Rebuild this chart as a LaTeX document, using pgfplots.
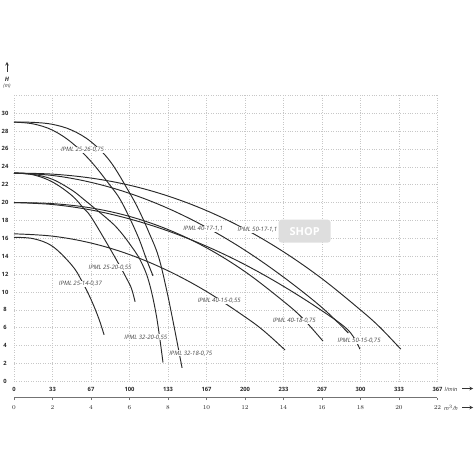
\documentclass[border=0pt]{standalone}
\usepackage{pgfplots}
\pgfplotsset{compat=1.18}
\usepackage{fontspec}
\setmainfont{Open Sans}
\definecolor{curve}{HTML}{2A2A2A}
\definecolor{lbl}{HTML}{444444}
\tikzset{lab/.style={font=\fontsize{6}{7}\selectfont\itshape, text=lbl, fill=white, inner sep=0.6pt}}
\pgfplotsset{pc/.style={draw=curve, solid, line width=0.95pt, smooth, tension=0.6, mark=none}}
\begin{document}
\begin{tikzpicture}[x=1pt,y=1pt]
\path[use as bounding box] (0,0) rectangle (475,475);
\begin{axis}[
  at={(14pt,93.7pt)}, anchor=south west, scale only axis,
  width=423.5pt, height=286pt,
  xmin=0,xmax=22,ymin=0,ymax=32,
  xtick={0,2,...,22}, xticklabels={0,33,67,100,133,167,200,233,267,300,333,367},
  ytick={0,2,...,32}, yticklabels={0,2,4,6,8,10,12,14,16,18,20,22,24,26,28,30,{}},
  grid=major, grid style={dotted, black!22, line width=0.5pt},
  axis line style={draw=none}, major tick length=0pt,
  tick label style={font=\fontsize{5.8}{6}\selectfont\bfseries, text=black!85},
  yticklabel style={anchor=center, xshift=-9pt},
  xticklabel style={anchor=center, yshift=-8pt},
  clip=false,
]
% watermark
\node[fill=black!13, rounded corners=3pt, minimum width=52pt, minimum height=23pt, text=white, font=\fontsize{11}{12}\selectfont\bfseries] at (axis cs:15.1,16.8) {SHOP};

% IPML 25-26-0,75
\addplot[pc] coordinates {(0,29)(1,28.8)(2,28.1)(3,26.7)(4,24.6)(5,21.9)(5.5,20.4)(6,18.3)(6.5,15.9)(6.89,13.6)(7.22,11.8)};
% IPML 32-18-0,75
\addplot[pc] coordinates {(0,29)(1,28.97)(2,28.75)(3,28.1)(4,26.8)(5,24.6)(6,21.1)(6.5,19.1)(7,16.7)(7.5,14.0)(7.93,10.2)(8.3,6.3)(8.73,1.5)};
% IPML 25-20-0,55
\addplot[pc] coordinates {(0,23.3)(1,23.1)(2,22.3)(3,20.8)(3.6,19.4)(4,18.4)(4.81,15.5)(5.5,12.9)(5.85,11.5)(6.1,10.4)(6.29,8.9)};
% IPML 32-20-0,55
\addplot[pc] coordinates {(0,23.3)(1,23.15)(2,22.6)(3,21.4)(3.6,20.4)(4,19.7)(5,17.9)(5.5,16.8)(6,15.4)(6.55,13.6)(7,11.2)(7.4,7.3)(7.74,2.1)};
% IPML 50-17-1,1
\addplot[pc] coordinates {(0,23.3)(2,23.18)(4,22.74)(6,21.94)(8,20.73)(10,19.10)(12,17.03)(14,14.49)(16,11.48)(18,7.98)(19,6.06)(20.09,3.6)};
% IPML 40-17-1,1
\addplot[pc] coordinates {(0,23.3)(2,23.03)(4,22.26)(6,21.03)(8,19.35)(10,17.22)(12,14.66)(14,11.66)(16,8.25)(17.37,5.4)};
% IPML 40-18-0,75
\addplot[pc] coordinates {(0,20)(2,19.88)(4,19.40)(6,18.45)(8,16.98)(10,14.94)(12,12.27)(14,8.95)(15,7.04)(16.05,4.5)};
% IPML 50-15-0,75
\addplot[pc] coordinates {(0,20)(2,19.78)(4,19.17)(6,18.17)(8,16.82)(10,15.11)(12,13.05)(14,10.63)(16,7.89)(17.37,5.7)(17.97,3.6)};
% IPML 40-15-0,55
\addplot[pc] coordinates {(0,16.5)(2,16.24)(4,15.47)(6,14.18)(8,12.37)(10,10.05)(12,7.21)(13,5.6)(14.08,3.5)};
% IPML 25-14-0,37
\addplot[pc] coordinates {(0,16.1)(1,15.96)(2,15.1)(3,13.0)(3.5,11.32)(4,9.16)(4.4,7.05)(4.68,5.2)};

\node[lab] at (axis cs:3.56,25.87) {IPML 25-26-0,75};
\node[lab] at (axis cs:3.45,10.9) {IPML 25-14-0,37};
\node[lab] at (axis cs:4.99,12.75) {IPML 25-20-0,55};
\node[lab] at (axis cs:6.85,4.92) {IPML 32-20-0,55};
\node[lab] at (axis cs:9.18,3.13) {IPML 32-18-0,75};
\node[lab] at (axis cs:10.66,8.98) {IPML 40-15-0,55};
\node[lab] at (axis cs:9.82,17.04) {IPML 40-17-1,1};
\node[lab] at (axis cs:12.65,16.96) {IPML 50-17-1,1};
\node[lab] at (axis cs:14.56,6.74) {IPML 40-18-0,75};
\node[lab] at (axis cs:17.93,4.51) {IPML 50-15-0,75};
\end{axis}
\begin{axis}[
  at={(14pt,77.3pt)}, anchor=south west, scale only axis,
  width=423.5pt, height=10pt,
  xmin=0,xmax=22,ymin=0,ymax=1,
  axis x line*=bottom, axis y line=none,
  xtick={0,2,...,22}, tick align=outside, major tick length=2.5pt,
  axis line style={black!55, line width=0.7pt},
  tick style={black!55, line width=0.5pt},
  tick label style={font=\fontsize{5.8}{6}\selectfont\bfseries, text=black!85},
  xticklabel style={anchor=center, yshift=-7pt},
]
\addplot[draw=none] coordinates {(0,0)(22,1)};
\end{axis}
% axis unit labels
\node[font=\fontsize{5.5}{6}\selectfont\itshape, text=black!80] at (451,86) {l/min};
\draw[-stealth, black!80, line width=0.6pt] (462,86.5) -- (473,86.5);
\node[font=\fontsize{5.5}{6}\selectfont\itshape, text=black!80] at (451,67) {m$^3$/h};
\draw[-stealth, black!80, line width=0.6pt] (462,67.5) -- (473,67.5);
\draw[-stealth, black!80, line width=0.6pt] (7,403) -- (7,413);
\node[font=\fontsize{6}{7}\selectfont\bfseries\itshape, text=black!80] at (7,396) {H};
\node[font=\fontsize{5}{6}\selectfont\itshape, text=black!80] at (7,389) {(m)};
\end{tikzpicture}
\end{document}
